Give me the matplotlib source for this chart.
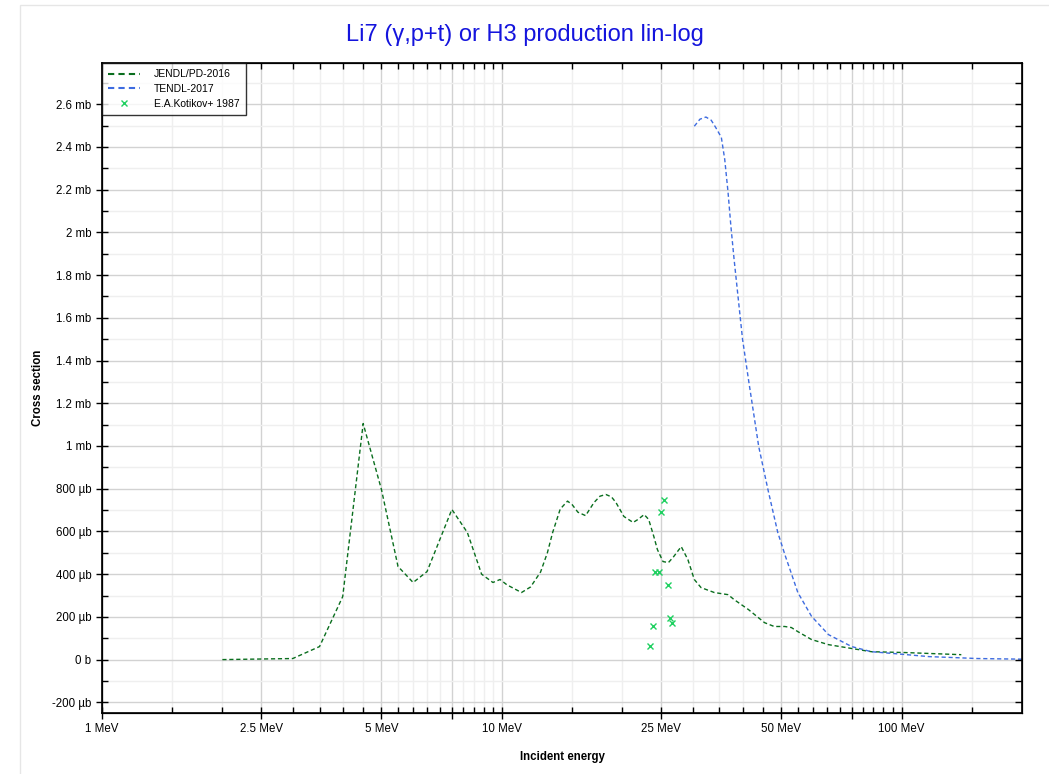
import matplotlib
matplotlib.use('Agg')
import matplotlib.pyplot as plt
from matplotlib.ticker import FixedLocator, FuncFormatter, MultipleLocator, NullFormatter
from matplotlib.patches import Rectangle

plt.rcParams['font.family'] = ['Liberation Sans', 'DejaVu Sans']

# JENDL/PD-2016 (energy in MeV, cross section in mb)
jendl_e = [2.0, 3.0, 3.5, 4.0, 4.5, 5.0, 5.5, 6.0, 6.5, 7.5, 8.2, 8.9, 9.5, 9.9, 10.3,
           11.2, 11.8, 12.5, 13.0, 13.4, 14.0, 14.6, 15.0, 15.5, 16.2, 17.0, 17.6, 18.2,
           18.8, 19.3, 20.2, 21.3, 21.9, 22.7, 23.3, 24.0, 24.5, 25.3, 26.1, 26.9, 28.1,
           29.2, 30.3, 31.5, 34.0, 36.8, 38.1, 41.4, 45.4, 48.0, 51.0, 53.0, 55.0, 59.5,
           65.6, 75.0, 84.0, 102.0, 141.0]
jendl_xs = [0.0, 0.005, 0.061, 0.295, 1.105, 0.796, 0.436, 0.361, 0.412, 0.703, 0.595,
            0.400, 0.361, 0.375, 0.350, 0.314, 0.340, 0.410, 0.500, 0.595, 0.705, 0.742,
            0.725, 0.690, 0.674, 0.735, 0.765, 0.773, 0.762, 0.735, 0.670, 0.642, 0.656,
            0.679, 0.656, 0.576, 0.515, 0.459, 0.454, 0.482, 0.529, 0.468, 0.375, 0.337,
            0.314, 0.304, 0.281, 0.234, 0.173, 0.155, 0.155, 0.150, 0.131, 0.094, 0.070,
            0.052, 0.037, 0.033, 0.023]

# TENDL-2017
tendl_e = [30.3, 31.3, 32.4, 33.4, 34.3, 35.4, 36.1, 36.8, 37.4, 38.1, 40.0, 41.4, 43.9,
           46.3, 49.0, 51.2, 52.9, 55.0, 59.5, 65.6, 75.0, 84.0, 96.0, 117.0, 155.0, 200.0]
tendl_xs = [2.497, 2.53, 2.54, 2.525, 2.49, 2.445, 2.342, 2.187, 2.03, 1.874, 1.50, 1.31,
            0.998, 0.796, 0.595, 0.484, 0.407, 0.314, 0.203, 0.117, 0.061, 0.037, 0.028,
            0.014, 0.005, 0.002]

# E.A.Kotikov+ 1987 measured points
exp_e = [25.5, 25.0, 24.1, 24.7, 26.0, 26.3, 26.7, 23.9, 23.5]
exp_xs = [0.745, 0.693, 0.412, 0.412, 0.347, 0.197, 0.173, 0.159, 0.066]

# axis ticks
major_e = [1, 2.5, 5, 7.5, 10, 25, 50, 75, 100]
major_lab = ['1 MeV', '2.5 MeV', '5 MeV', '', '10 MeV', '25 MeV', '50 MeV', '', '100 MeV']
minor_e = [1.5, 2, 3, 3.5, 4, 4.5, 5.5, 6, 6.5, 7, 8, 8.5, 9, 9.5, 15, 20,
           30, 35, 40, 45, 55, 60, 65, 70, 80, 85, 90, 95, 150]


def fmt_xs(v, pos):
    v = round(v, 6)
    if v == 0:
        return '0 b'
    if abs(v) >= 1:
        return f'{v:g} mb'
    return f'{round(v * 1000):g} µb'


fig = plt.figure(figsize=(10.49, 7.74), dpi=100)
fig.patches.append(Rectangle((20 / 1049, -0.1), 1.2, 1.1 - 5 / 774, transform=fig.transFigure,
                             fill=False, edgecolor='#e6e6e6', lw=1))
ax = fig.add_axes([102 / 1049, 61 / 774, 920 / 1049, 650 / 774])

ax.plot(jendl_e, jendl_xs, color='#0a6e1e', lw=1, ls=(0, (3, 2)), label='JENDL/PD-2016')
ax.plot(tendl_e, tendl_xs, color='#3d6be0', lw=1, ls=(0, (3, 2)), label='TENDL-2017')
ax.plot(exp_e, exp_xs, ls='none', marker='x', ms=4.5, mew=1, color='#1fd060',
        label='E.A.Kotikov+ 1987')

ax.set_xscale('log')
ax.set_xlim(1, 200)
ax.set_ylim(-0.25, 2.793)

ax.xaxis.set_major_locator(FixedLocator(major_e))
ax.xaxis.set_major_formatter(FuncFormatter(lambda v, p: major_lab[major_e.index(v)] if v in major_e else ''))
ax.xaxis.set_minor_locator(FixedLocator(minor_e))
ax.xaxis.set_minor_formatter(NullFormatter())
ax.yaxis.set_major_locator(MultipleLocator(0.2))
ax.yaxis.set_minor_locator(MultipleLocator(0.1))
ax.yaxis.set_major_formatter(FuncFormatter(fmt_xs))

ax.grid(which='major', color='#d2d2d2', lw=1)
ax.grid(which='minor', color='#efefef', lw=1)
ax.set_axisbelow(True)

ax.tick_params(which='major', direction='inout', length=9, width=1, labelsize=8.3, pad=3)
ax.tick_params(which='minor', direction='in', length=4, width=1)
for s in ax.spines.values():
    s.set_linewidth(1.2)

# top and right ticks pointing inward
ax_r = ax.twinx()
ax_r.set_ylim(ax.get_ylim())
ax_r.yaxis.set_major_locator(MultipleLocator(0.1))
ax_r.yaxis.set_major_formatter(NullFormatter())
ax_r.tick_params(direction='in', length=5, width=1)
ax_t = ax.twiny()
ax_t.set_xscale('log')
ax_t.set_xlim(ax.get_xlim())
ax_t.xaxis.set_major_locator(FixedLocator(major_e + minor_e))
ax_t.xaxis.set_major_formatter(NullFormatter())
ax_t.xaxis.set_minor_locator(FixedLocator([]))
ax_t.tick_params(direction='in', length=4, width=1)

ax.set_xlabel('Incident energy', fontsize=8.3, fontweight='bold', labelpad=11)
ax.set_ylabel('Cross section', fontsize=8.3, fontweight='bold', labelpad=6)
fig.text(0.5, 1 - 35 / 774, 'Li7 (γ,p+t) or H3 production lin-log', color='#1414dd',
         fontsize=17, ha='center', va='center')

h, l = ax.get_legend_handles_labels()
leg = ax_t.legend(h, l, loc='upper left', fontsize=7.5, frameon=True, fancybox=False,
                  edgecolor='black', borderaxespad=0, handlelength=3.0, labelspacing=0.45,
                  borderpad=0.6, handletextpad=1.4)
leg.get_frame().set_linewidth(1)
leg.legend_handles[0].set_linewidth(1.5)
leg.legend_handles[1].set_linewidth(1.5)

fig.savefig('out.png', dpi=100)
